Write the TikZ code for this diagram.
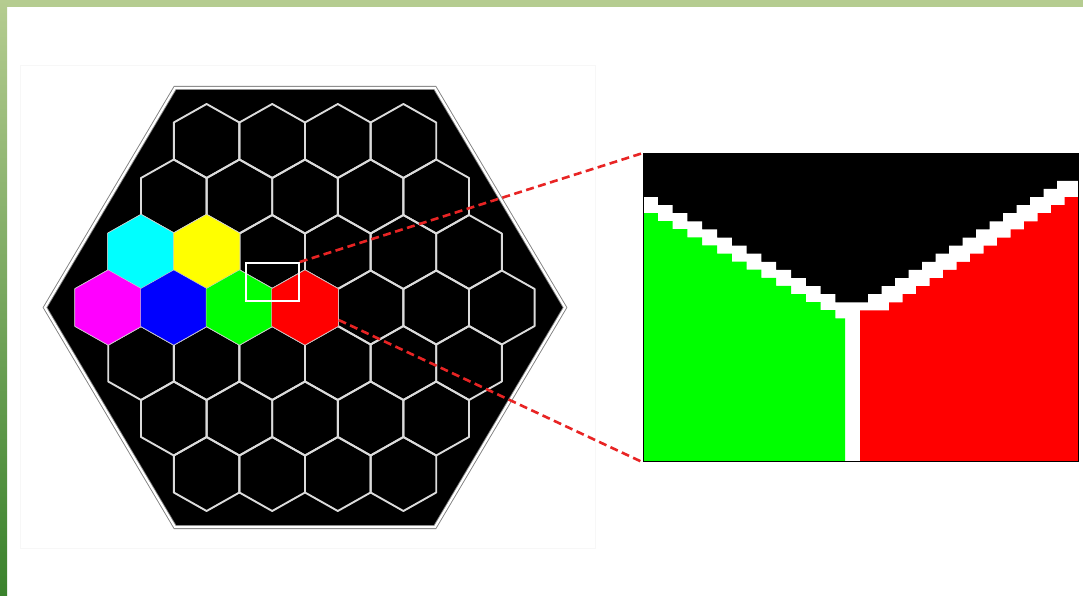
\documentclass[tikz,border=0pt]{standalone}
\usepackage{xcolor}
\usepackage{tikz}

\definecolor{bandgreen}{RGB}{181,204,144}
\definecolor{bandmid}{RGB}{160,187,116}
\definecolor{banddark}{RGB}{58,130,44}
\definecolor{zoomred}{RGB}{232,36,36}
\definecolor{pcyan}{RGB}{0,255,255}
\definecolor{pyellow}{RGB}{255,255,0}
\definecolor{pmagenta}{RGB}{255,0,255}
\definecolor{pblue}{RGB}{0,0,255}
\definecolor{pgreen}{RGB}{0,255,0}
\definecolor{pred}{RGB}{255,0,0}

\begin{document}
\begin{tikzpicture}[
  x=1pt, y=-1pt,
  cell/.style={draw=black!14, line width=1.9pt, line join=round},
  tile/.style={draw=white!80!black, line width=0.5pt, line join=round},
  board/.style={fill=black, draw=black!50, double=white, double distance=2.2pt, line width=0.9pt, line join=miter},
  lens/.style={draw=white, line width=1.8pt, inner sep=0pt, minimum width=53pt, minimum height=38pt, anchor=north west},
  panel/.style={draw=black, line width=1.4pt, inner sep=0pt, minimum width=435pt, minimum height=308pt, anchor=north west},
  guide/.style={draw=zoomred, line width=2.6pt, dash pattern=on 8pt off 4.5pt}
]
\useasboundingbox (0,0) rectangle (1083,596);
\fill[bandgreen] (0,0) rectangle (1083,7);
\shade[top color=bandgreen, middle color=bandmid, bottom color=banddark] (0,0) rectangle (7,596);
\draw[black!3, line width=0.5pt] (20,65) rectangle (595,548);

\path[board] (45,307.5) -- (175,88) -- (435,88) -- (565,307.5) -- (435,527) -- (175,527) -- cycle;
\foreach \r in {0,...,6}{
  \pgfmathtruncatemacro{\n}{7-abs(\r-3)}
  \foreach \i in {1,...,\n}{
    \pgfmathsetmacro{\cx}{305+(\i-(\n+1)/2)*65.6}
    \pgfmathsetmacro{\cy}{307.5+(\r-3)*55.5}
    \draw[cell] (\cx,\cy-37) -- ++(32.8,18.5) -- ++(0,37) -- ++(-32.8,18.5) -- ++(-32.8,-18.5) -- ++(0,-37) -- cycle;
  }
}
\foreach \r/\i/\c in {2/1/pcyan,2/2/pyellow,3/1/pmagenta,3/2/pblue,3/3/pgreen,3/4/pred}{
  \pgfmathtruncatemacro{\n}{7-abs(\r-3)}
  \pgfmathsetmacro{\cx}{305+(\i-(\n+1)/2)*65.6}
  \pgfmathsetmacro{\cy}{307.5+(\r-3)*55.5}
  \filldraw[tile, fill=\c] (\cx,\cy-37.6) -- ++(33.3,18.8) -- ++(0,37.6) -- ++(-33.3,18.8) -- ++(-33.3,-18.8) -- ++(0,-37.6) -- cycle;
}

\fill[black] (643,153) rectangle (1078,461);
\fill[white] (643,197) \foreach \k in {1,...,13}{ -| ++(14.8,8.1) } -- ++(32.6,0)
  \foreach \k in {1,...,15}{ |- ++(13.5,-8.1) } -- ++(7.5,0) -- (1078,461) -- (643,461) -- cycle;
\fill[pgreen] (643,213) \foreach \k in {1,...,13}{ -| ++(14.8,8.1) } -| (845,461) -- (643,461) -- cycle;
\fill[pred] (1078,197) \foreach \k in {1,...,14}{ -| ++(-13.5,8.1) } -| (860,461) -- (1078,461) -- cycle;
\node[panel] (inset) at (643,153) {};

\node[lens] (lens) at (245,262) {};
\draw[guide] (lens.north east) -- (inset.north west);
\draw[guide, shorten <=43pt] (lens.south east) -- (inset.south west);
\node[lens] at (lens.north west) {};
\end{tikzpicture}
\end{document}
